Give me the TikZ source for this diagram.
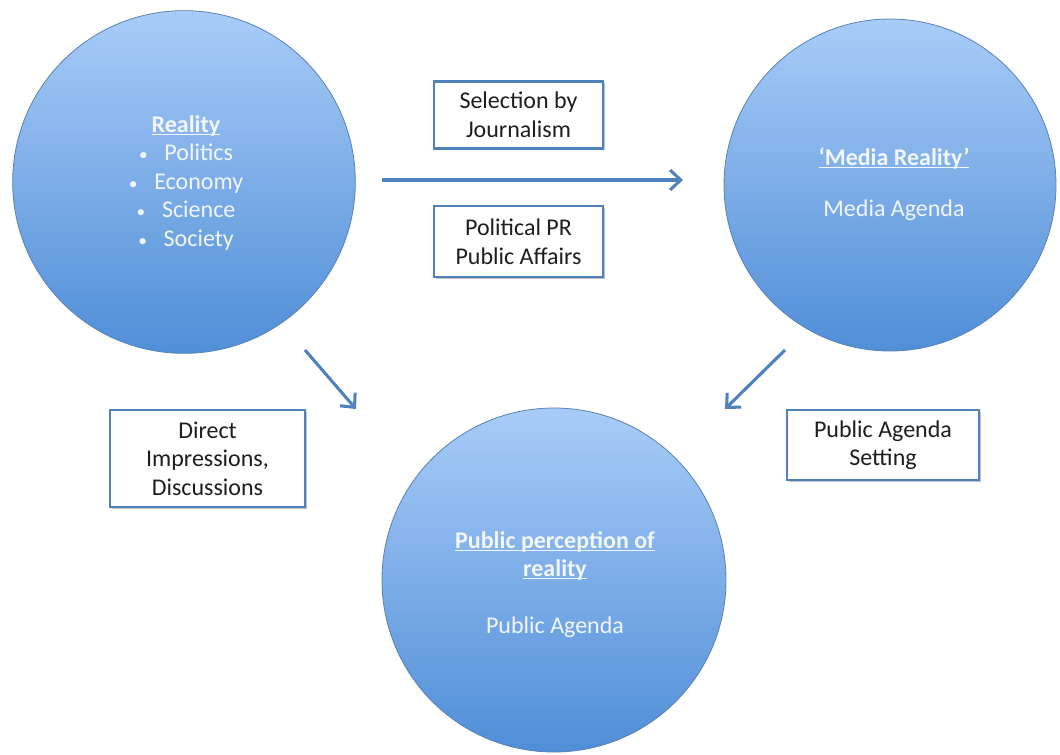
\documentclass[tikz,border=0pt]{standalone}
\usepackage{fontspec}
\setmainfont{Carlito}
\usetikzlibrary{arrows.meta,shadows}
\definecolor{ctop}{RGB}{168,204,247}
\definecolor{cbot}{RGB}{80,142,216}
\definecolor{cline}{RGB}{88,130,180}
\definecolor{abl}{RGB}{79,129,189}
\definecolor{ctext}{RGB}{242,247,253}
\definecolor{btext}{RGB}{30,30,30}
\newcommand{\smbul}{{\fontsize{13}{13}\selectfont •}\hspace{0.7em}}
\newcommand{\ulbf}[1]{\underline{\smash{\textbf{#1}}}}
\begin{document}
\begin{tikzpicture}[x=0.75pt,y=-0.75pt,
  bigcirc/.style={circle, draw=cline, line width=0.6pt, top color=ctop, bottom color=cbot, minimum size=#1, inner sep=0pt},
  ctxt/.style={text=ctext, align=center, font=\fontsize{18}{21.4}\selectfont, inner sep=0pt},
  lbox/.style={draw=abl, line width=2pt, fill=white, text=btext, align=center,
    font=\fontsize{18}{21.4}\selectfont, inner sep=0pt,
    drop shadow={shadow xshift=1.2pt, shadow yshift=-1.2pt, opacity=0.25, fill=black}},
  flow/.style={draw=abl, line width=2.3pt, -{Straight Barb[length=8pt,width=15pt,line width=2.3pt]}}
]
\fill[white] (0,0) rectangle (1060,754);
\useasboundingbox (0,0) rectangle (1060,754);

% circles
\node[bigcirc=257pt] (reality) at (184,182) {};
\node[bigcirc=249pt] (media) at (890,185) {};
\node[bigcirc=258pt] (public) at (554,580) {};

% circle texts
\node[ctxt] (realtxt) at (186,191) {\ulbf{Reality}\\
  \smbul Politics\\ \smbul Economy\\ \smbul Science\\ \smbul Society};
\node[ctxt] (medtxt) at (894,193) {\ulbf{‘Media Reality’}\\[16.5pt] Media Agenda};
\node[ctxt] (pubtxt) at (555,593) {\ulbf{Public perception of}\\ \ulbf{reality}\\[21.4pt] Public Agenda};

% label boxes
\node[lbox, minimum width=126.75pt, minimum height=50.25pt] (sel) at (518.5,115) {Selection by\\ Journalism};
\node[lbox, minimum width=126.75pt, minimum height=53.25pt] (ppr) at (518.5,241.5) {Political PR\\ Public Affairs};
\node[lbox, minimum width=146.25pt, minimum height=72.75pt] (dir) at (207.5,458.5) {Direct\\ Impressions,\\ Discussions};
\node[lbox, minimum width=144pt, minimum height=52.5pt] (pas) at (883,445) {Public Agenda\\ Setting};

% arrow end points
\coordinate (h1) at (382,180);
\coordinate (h2) at (683,180);
\coordinate (l1) at (305,350);
\coordinate (l2) at (356,409);
\coordinate (r1) at (785,350);
\coordinate (r2) at (725,409);

\draw[flow] (h1) -- (h2);
\draw[flow] (l1) -- (l2);
\draw[flow] (r1) -- (r2);
\end{tikzpicture}
\end{document}
